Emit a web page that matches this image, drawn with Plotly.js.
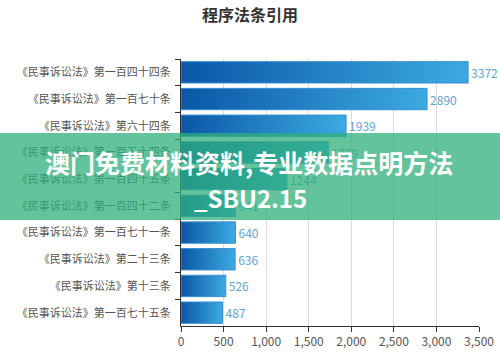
<!DOCTYPE html>
<html>
<head>
<meta charset="utf-8">
<script src="https://cdn.plot.ly/plotly-3.0.1.min.js"></script>
<style>html,body{margin:0;padding:0;background:#fff;}#chart{width:500px;height:357px;}</style>
</head>
<body>
<div id="chart"></div>
<script>
const categories = [
  "《民事诉讼法》第一百四十四条",
  "《民事诉讼法》第一百七十条",
  "《民事诉讼法》第六十四条",
  "《民事诉讼法》第一百五十四条",
  "《民事诉讼法》第一百四十五条",
  "《民事诉讼法》第一百四十二条",
  "《民事诉讼法》第一百七十一条",
  "《民事诉讼法》第二十三条",
  "《民事诉讼法》第十三条",
  "《民事诉讼法》第一百七十五条"
];
const values = [3372, 2890, 1939, 1729, 1244, 641, 640, 636, 526, 487];
const xTicks = [0, 500, 1000, 1500, 2000, 2500, 3000, 3500];
const chartTitle = "程序法条引用";
const overlayLines = ["澳门免费材料资料,专业数据点明方法", "_SBU2.15"];

const cjk = '"Microsoft YaHei","Noto Sans CJK SC",sans-serif';

const trace = {
  type: 'bar',
  orientation: 'h',
  x: values,
  y: categories,
  text: values.map(String),
  textposition: 'outside',
  cliponaxis: false,
  textfont: {family: cjk, size: 12, color: '#5fa3d4'},
  marker: {color: '#2380c8', line: {color: '#3a8fd0', width: 1}},
  hoverinfo: 'none'
};

const layout = {
  width: 500, height: 357,
  margin: {l: 181, r: 21, t: 59, b: 31},
  paper_bgcolor: '#fff', plot_bgcolor: '#fff',
  bargap: 0.2,
  showlegend: false,
  title: {text: chartTitle, x: 0.5, xanchor: 'center', y: 0.958, yanchor: 'middle',
          font: {family: cjk, size: 16, color: '#333', weight: 'bold'}},
  xaxis: {
    range: [0, 3500], tickvals: xTicks, tickformat: ',d',
    showgrid: true, gridcolor: '#dcdcdc', gridwidth: 1,
    showline: true, linecolor: '#333', linewidth: 1,
    ticks: 'outside', ticklen: 5, tickcolor: '#333',
    tickfont: {family: cjk, size: 12, color: '#555'},
    zeroline: false, fixedrange: true
  },
  yaxis: {
    autorange: 'reversed', type: 'category',
    showline: true, linecolor: '#333', linewidth: 1,
    ticks: 'outside', ticklen: 5, tickcolor: '#333', tickson: 'boundaries',
    ticklabelstandoff: 7,
    tickfont: {family: cjk, size: 11, color: '#555'},
    showgrid: false, fixedrange: true
  },
  shapes: [{
    type: 'rect', xref: 'paper', yref: 'paper', layer: 'above',
    x0: -0.62, x1: 1.08, y0: 0.397, y1: 0.723,
    fillcolor: 'rgba(47,175,124,0.75)', line: {width: 0}
  }],
  annotations: [
    {xref: 'paper', yref: 'paper', x: 0.228, y: 0.614,
     xanchor: 'center', yanchor: 'middle', showarrow: false,
     text: overlayLines[0],
     font: {family: cjk, size: 25, color: '#fff', weight: 'bold'}},
    {xref: 'paper', yref: 'paper', x: 0.232, y: 0.483,
     xanchor: 'center', yanchor: 'middle', showarrow: false,
     text: overlayLines[1],
     font: {family: cjk, size: 24, color: '#fff', weight: 'bold'}}
  ]
};

Plotly.newPlot('chart', [trace], layout, {displayModeBar: false, staticPlot: true}).then(function(gd){
  const svg = gd.querySelector('svg.main-svg');
  const ns = 'http://www.w3.org/2000/svg';
  let defs = svg.querySelector('defs');
  if (!defs) { defs = document.createElementNS(ns, 'defs'); svg.insertBefore(defs, svg.firstChild); }
  const g = document.createElementNS(ns, 'linearGradient');
  g.setAttribute('id', 'barGrad');
  g.setAttribute('x1', '0'); g.setAttribute('y1', '0');
  g.setAttribute('x2', '1'); g.setAttribute('y2', '0');
  [['0', '#0a57a6'], ['1', '#3caae2']].forEach(function(s){
    const st = document.createElementNS(ns, 'stop');
    st.setAttribute('offset', s[0]); st.setAttribute('stop-color', s[1]);
    g.appendChild(st);
  });
  defs.appendChild(g);
  gd.querySelectorAll('.barlayer .point path').forEach(function(p){
    p.style.fill = 'url(#barGrad)';
  });
});
</script>
</body>
</html>
